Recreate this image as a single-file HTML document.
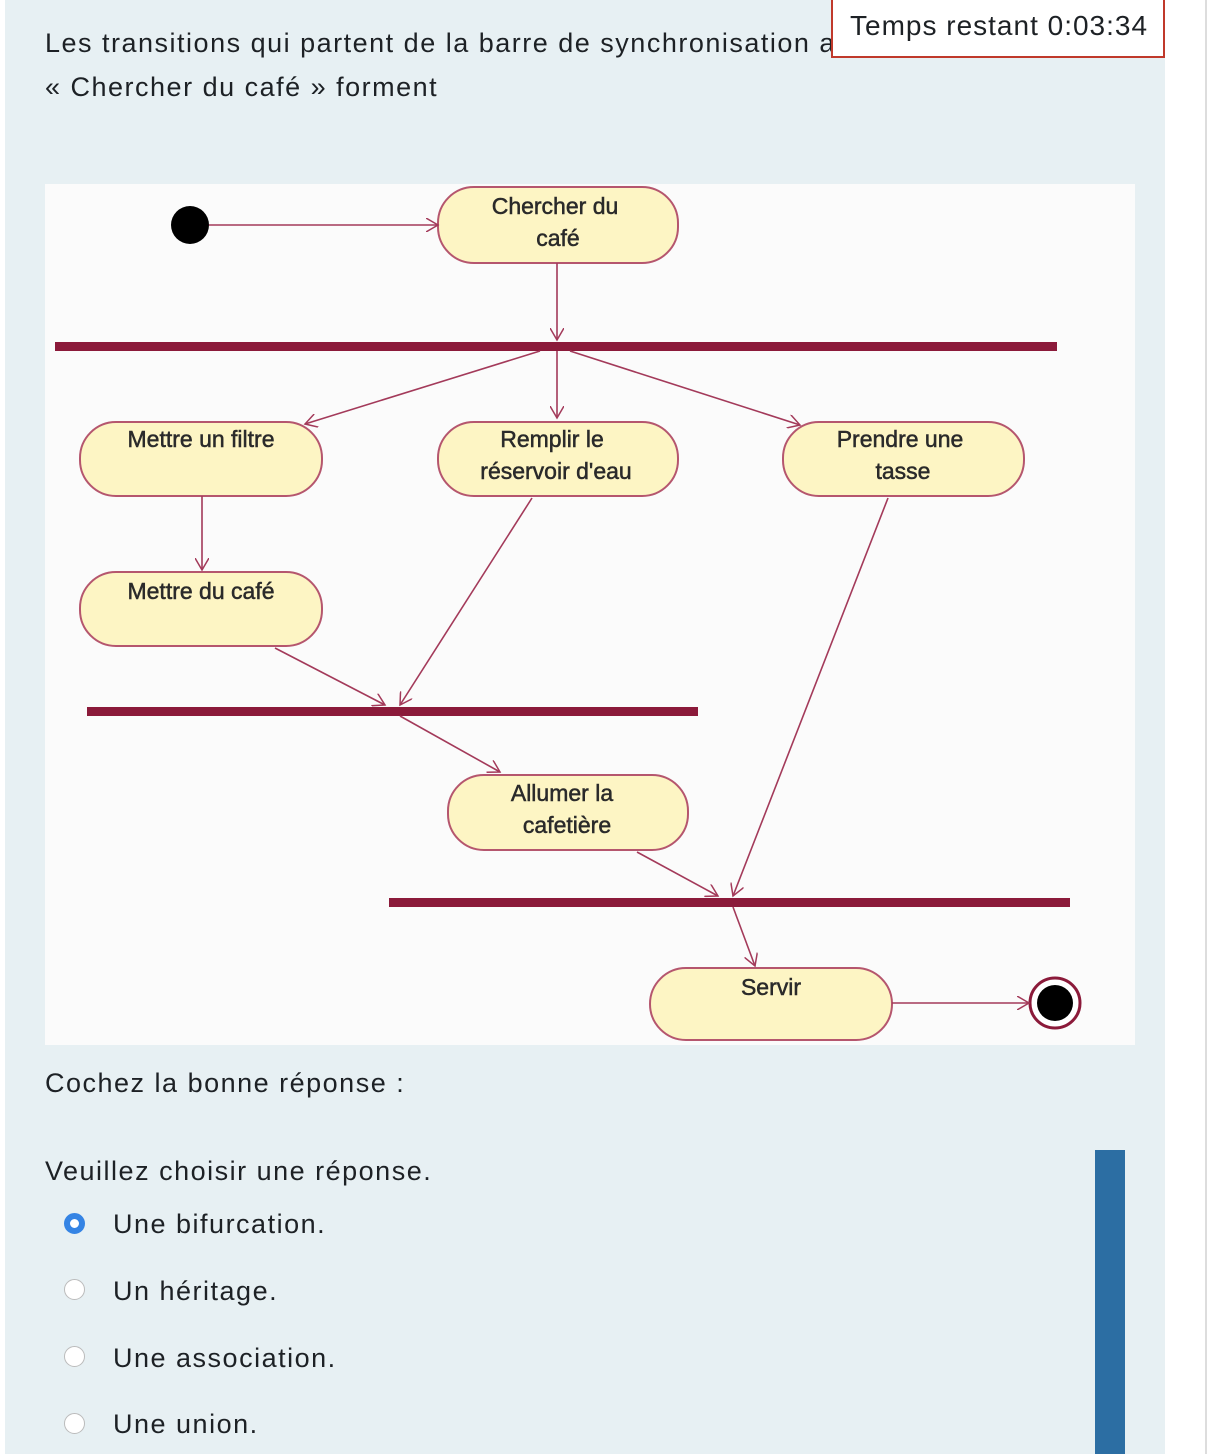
<!DOCTYPE html>
<html><head><meta charset="utf-8"><style>
body{margin:0;width:1226px;height:1454px;background:#fff;position:relative;overflow:hidden;font-family:"Liberation Sans","DejaVu Sans",sans-serif;color:#1d2125}
.panel{position:absolute;left:5px;top:0;width:1160px;height:1454px;background:#e7f0f3}
.vline{position:absolute;left:1205px;top:0;width:2px;height:1454px;background:#ddd}
.t{position:absolute;font-size:27px;white-space:nowrap;letter-spacing:1.5px}
.timer{position:absolute;left:831px;top:-2px;width:334px;height:60px;background:#fff;border:2px solid #c0392b;border-top:none;font-size:28px;box-sizing:border-box;padding:12px 0 0 17px;letter-spacing:1px}
.bar{position:absolute;left:1095px;top:1150px;width:30px;height:304px;background:#2c6ea3}
.r{position:absolute;left:64px;width:21px;height:21px;border-radius:50%;border:1px solid #bbb;background:#fff;box-sizing:border-box}
</style></head><body>
<div class="panel"></div><div class="vline"></div>
<div class="t" style="left:45px;top:28px">Les transitions qui partent de la barre de synchronisation après</div>
<div class="t" style="left:45px;top:72px">« Chercher du café » forment</div>
<div class="timer">Temps restant 0:03:34</div>
<svg style="position:absolute;left:0;top:0" width="1226" height="1454">
<defs><marker id="a" markerWidth="14" markerHeight="14" refX="12" refY="7" orient="auto" markerUnits="userSpaceOnUse"><path d="M0,0 L12,7 L0,14" fill="none" stroke="#a33a5a" stroke-width="1.5"/></marker></defs>
<rect x="45" y="184" width="1090" height="861" fill="#fbfbfb"/>
<g fill="#fdf5c4" stroke="#b5566e" stroke-width="2">
<rect x="438" y="187" width="240" height="76" rx="36"/>
<rect x="80" y="422" width="242" height="74" rx="36"/>
<rect x="438" y="422" width="240" height="74" rx="36"/>
<rect x="783" y="422" width="241" height="74" rx="36"/>
<rect x="80" y="572" width="242" height="74" rx="36"/>
<rect x="448" y="775" width="240" height="75" rx="36"/>
<rect x="650" y="968" width="242" height="72" rx="36"/>
</g>
<g fill="#8b1a3a"><rect x="55" y="342" width="1002" height="9"/><rect x="87" y="707" width="611" height="9"/><rect x="389" y="898" width="681" height="9"/></g>
<circle cx="190" cy="225" r="19" fill="#000"/>
<circle cx="1055" cy="1003" r="25" fill="#fff" stroke="#8b1a3a" stroke-width="3"/><circle cx="1055" cy="1003" r="18" fill="#000"/>
<g stroke="#a33a5a" stroke-width="1.6" marker-end="url(#a)" fill="none">
<line x1="209" y1="225" x2="438" y2="225"/>
<line x1="557" y1="263" x2="557" y2="340"/>
<line x1="540" y1="351" x2="305" y2="424"/>
<line x1="557" y1="351" x2="557" y2="418"/>
<line x1="570" y1="351" x2="800" y2="425"/>
<line x1="202" y1="496" x2="202" y2="570"/>
<line x1="275" y1="648" x2="385" y2="705"/>
<line x1="532" y1="498" x2="400" y2="705"/>
<line x1="400" y1="716" x2="500" y2="772"/>
<line x1="637" y1="852" x2="718" y2="896"/>
<line x1="888" y1="498" x2="733" y2="896"/>
<line x1="733" y1="907" x2="755" y2="966"/>
<line x1="892" y1="1003" x2="1029" y2="1003"/>
</g>
<g font-family="Liberation Sans,sans-serif" font-size="23" fill="#2a2a2a" text-anchor="middle" stroke="#2a2a2a" stroke-width="0.5">
<text x="555" y="214">Chercher du</text><text x="558" y="246">café</text>
<text x="201" y="447">Mettre un filtre</text>
<text x="552" y="447">Remplir le</text><text x="556" y="479">réservoir d'eau</text>
<text x="900" y="447">Prendre une</text><text x="903" y="479">tasse</text>
<text x="201" y="599">Mettre du café</text>
<text x="562" y="801">Allumer la</text><text x="567" y="833">cafetière</text>
<text x="771" y="995">Servir</text>
</g>
</svg>
<div class="t" style="left:45px;top:1068px">Cochez la bonne réponse :</div>
<div class="t" style="left:45px;top:1156px">Veuillez choisir une réponse.</div>
<div class="r" style="top:1213px;border:6px solid #3584e4"></div>
<div class="t" style="left:113px;top:1209px">Une bifurcation.</div>
<div class="r" style="top:1279px"></div>
<div class="t" style="left:113px;top:1276px">Un héritage.</div>
<div class="r" style="top:1346px"></div>
<div class="t" style="left:113px;top:1343px">Une association.</div>
<div class="r" style="top:1413px"></div>
<div class="t" style="left:113px;top:1409px">Une union.</div>
<div class="bar"></div>
</body></html>
